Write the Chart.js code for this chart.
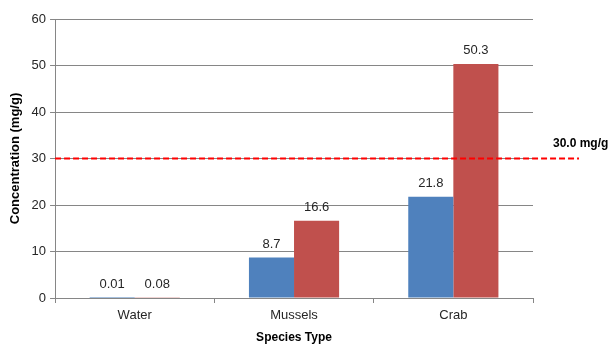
<!DOCTYPE html>
<html>
<head>
<meta charset="utf-8">
<script src="https://cdn.jsdelivr.net/npm/chart.js@4"></script>
<style>
  html, body { margin: 0; padding: 0; background: #fff; }
  canvas { display: block; }
</style>
</head>
<body>
<canvas id="c" width="610" height="345"></canvas>
<script>
// Species sampled and measured concentrations (mg/g)
const categories = ['Water', 'Mussels', 'Crab'];
const seriesA = [0.01, 8.7, 21.8];
const seriesB = [0.08, 16.6, 50.3];
const valueLabelsA = ['0.01', '8.7', '21.8'];
const valueLabelsB = ['0.08', '16.6', '50.3'];
const limitValue = 30;
const limitLabel = '30.0 mg/g';

const FONT = '"Liberation Sans", Arial, sans-serif';

// Writes each bar's value just above it
const valueLabels = {
  id: 'valueLabels',
  afterDatasetsDraw(chart) {
    const ctx = chart.ctx;
    const texts = [valueLabelsA, valueLabelsB];
    ctx.save();
    ctx.font = '13px ' + FONT;
    ctx.fillStyle = '#262626';
    ctx.textAlign = 'center';
    ctx.textBaseline = 'bottom';
    chart.data.datasets.forEach((ds, di) => {
      const meta = chart.getDatasetMeta(di);
      meta.data.forEach((bar, i) => {
        ctx.fillText(texts[di][i], bar.x, bar.y - 7);
      });
    });
    ctx.restore();
  }
};

// Dashed threshold line with its caption on the right
const limitLine = {
  id: 'limitLine',
  afterDatasetsDraw(chart) {
    const ctx = chart.ctx;
    const area = chart.chartArea;
    const y = chart.scales.y.getPixelForValue(limitValue);
    ctx.save();
    ctx.strokeStyle = '#FF0000';
    ctx.lineWidth = 2;
    ctx.setLineDash([6, 3]);
    ctx.beginPath();
    ctx.moveTo(area.left, y);
    ctx.lineTo(area.right + 46, y);
    ctx.stroke();
    ctx.setLineDash([]);
    ctx.font = 'bold 12px ' + FONT;
    ctx.fillStyle = '#000';
    ctx.textAlign = 'left';
    ctx.textBaseline = 'middle';
    ctx.fillText(limitLabel, area.right + 20, y - 15);
    ctx.restore();
  }
};

new Chart(document.getElementById('c'), {
  type: 'bar',
  data: {
    labels: categories,
    datasets: [
      { data: seriesA, backgroundColor: '#4F81BD', barPercentage: 1.0, categoryPercentage: 0.566 },
      { data: seriesB, backgroundColor: '#C0504D', barPercentage: 1.0, categoryPercentage: 0.566 }
    ]
  },
  options: {
    responsive: false,
    animation: false,
    layout: { padding: { top: 19, right: 77, left: 8, bottom: 0 } },
    plugins: {
      legend: { display: false },
      tooltip: { enabled: false }
    },
    scales: {
      x: {
        grid: {
          offset: true,
          drawOnChartArea: false,
          color: '#868686',
          tickLength: 5
        },
        border: { color: '#868686' },
        ticks: { font: { family: FONT, size: 13 }, color: '#262626', padding: 5 },
        title: {
          display: true,
          text: 'Species Type',
          font: { family: FONT, size: 12, weight: 'bold' },
          color: '#000',
          padding: { top: 2, bottom: 0 }
        }
      },
      y: {
        min: 0,
        max: 60,
        ticks: { stepSize: 10, font: { family: FONT, size: 13 }, color: '#262626', padding: 4 },
        grid: { color: '#868686', tickLength: 5 },
        border: { color: '#868686' },
        title: {
          display: true,
          text: 'Concentration (mg/g)',
          font: { family: FONT, size: 13, weight: 'bold' },
          color: '#000',
          padding: { top: 0, bottom: 4 }
        }
      }
    }
  },
  plugins: [valueLabels, limitLine]
});
</script>
</body>
</html>
